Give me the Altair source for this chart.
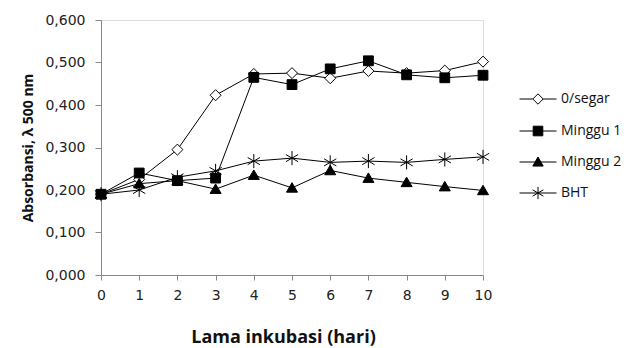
import altair as alt
import pandas as pd

days = [0, 1, 2, 3, 4, 5, 6, 7, 8, 9, 10]
segar = [0.190, 0.225, 0.295, 0.423, 0.473, 0.475, 0.463, 0.480, 0.475, 0.481, 0.502]
minggu1 = [0.190, 0.240, 0.222, 0.228, 0.465, 0.448, 0.485, 0.504, 0.471, 0.464, 0.470]
minggu2 = [0.190, 0.215, 0.222, 0.202, 0.235, 0.205, 0.246, 0.228, 0.218, 0.208, 0.199]
bht = [0.190, 0.200, 0.230, 0.245, 0.268, 0.275, 0.265, 0.268, 0.265, 0.272, 0.278]

series_names = ["0/segar", "Minggu 1", "Minggu 2", "BHT"]
series_values = [segar, minggu1, minggu2, bht]
y_ticks = [0, 0.1, 0.2, 0.3, 0.4, 0.5, 0.6]

rows = []
for name, vals in zip(series_names, series_values):
    for d, v in zip(days, vals):
        rows.append({"hari": d, "nilai": v, "seri": name})
df = pd.DataFrame(rows)

# marker shapes for the plot
mark_paths = [
    "M0,-0.9L0.9,0L0,0.9L-0.9,0Z",
    "M-0.8,-0.8L0.8,-0.8L0.8,0.8L-0.8,0.8Z",
    "M0,-0.85L0.9,0.7L-0.9,0.7Z",
    "M0,-1.15L0,1.15M-1,-0.58L1,0.58M-1,0.58L1,-0.58",
]
# legend symbols: line + marker
leg_paths = [
    "M-1,0L-0.28,0M0.28,0L1,0M0,-0.28L0.28,0L0,0.28L-0.28,0Z",
    "M-1,0L1,0M-0.26,-0.26L0.26,-0.26L0.26,0.26L-0.26,0.26Z",
    "M-1,0L1,0M0,-0.27L0.28,0.22L-0.28,0.22Z",
    "M-1,0L1,0M0,-0.33L0,0.33M-0.29,-0.17L0.29,0.17M-0.29,0.17L0.29,-0.17",
]
fills = ["white", "black", "black", "black"]
strokes = ["black", "black", "black", "black"]

x_axis = alt.Axis(
    title="Lama inkubasi (hari)",
    values=days,
    grid=False,
    format="d",
    labelOverlap=False,
    labelFlush=False,
    labelFont="DejaVu Sans",
    labelFontSize=14,
    labelColor="#222",
    labelPadding=8,
    tickSize=5,
    tickColor="#888",
    domainColor="#888",
    titleFont="Open Sans",
    titleFontSize=18,
    titleFontWeight="bold",
    titleColor="#111",
    titlePadding=26,
    titleX=182,
)
y_axis = alt.Axis(
    title="Absorbansi,  λ 500 nm",
    values=y_ticks,
    grid=False,
    labelOverlap=False,
    labelExpr="replace(format(datum.value, '.3f'), '.', ',')",
    labelFont="DejaVu Sans",
    labelFontSize=14,
    labelColor="#222",
    labelPadding=10,
    tickSize=6,
    tickColor="#888",
    domainColor="#888",
    titleFont="Open Sans",
    titleFontSize=14,
    titleFontWeight="bold",
    titleColor="#111",
    titlePadding=9,
)
x_scale = alt.Scale(domain=[0, 10], nice=False, zero=False)
y_scale = alt.Scale(domain=[0, 0.6], nice=False)


def xe():
    return alt.X("hari:Q", scale=x_scale, axis=x_axis)


def ye():
    return alt.Y("nilai:Q", scale=y_scale, axis=y_axis)


lines = alt.Chart(df).mark_line(color="black", strokeWidth=1).encode(
    x=xe(), y=ye(), detail="seri:N"
)

points = alt.Chart(df).mark_point(filled=True, strokeWidth=1, opacity=1, size=150).encode(
    x=xe(),
    y=ye(),
    shape=alt.Shape("seri:N", scale=alt.Scale(domain=series_names, range=mark_paths), legend=None),
    fill=alt.Fill("seri:N", scale=alt.Scale(domain=series_names, range=fills), legend=None),
    stroke=alt.Stroke("seri:N", scale=alt.Scale(domain=series_names, range=strokes), legend=None),
)

legend_layer = alt.Chart(df).mark_point(filled=True, strokeWidth=1, opacity=0, size=1369).encode(
    x=xe(),
    y=ye(),
    shape=alt.Shape(
        "seri:N",
        scale=alt.Scale(domain=series_names, range=leg_paths),
        legend=alt.Legend(
            title=None,
            orient="none",
            legendX=418,
            legendY=60,
            symbolSize=1369,
            symbolStrokeWidth=1,
            symbolOpacity=1,
            labelFont="Open Sans",
            labelFontSize=14,
            labelColor="#111",
            labelOffset=4,
            rowPadding=5,
        ),
    ),
    fill=alt.Fill("seri:N", scale=alt.Scale(domain=series_names, range=fills), legend=None),
    stroke=alt.Stroke("seri:N", scale=alt.Scale(domain=series_names, range=strokes), legend=None),
)

chart = (
    alt.layer(lines, points, legend_layer)
    .resolve_scale(shape="independent", fill="independent", stroke="independent")
    .properties(width=382, height=255, padding={"left": 13, "top": 5, "right": 5, "bottom": 0})
    .configure_view(stroke=None)
    .configure(background="white")
)

chart.save("out.html", embed_options={"renderer": "svg", "actions": False})
